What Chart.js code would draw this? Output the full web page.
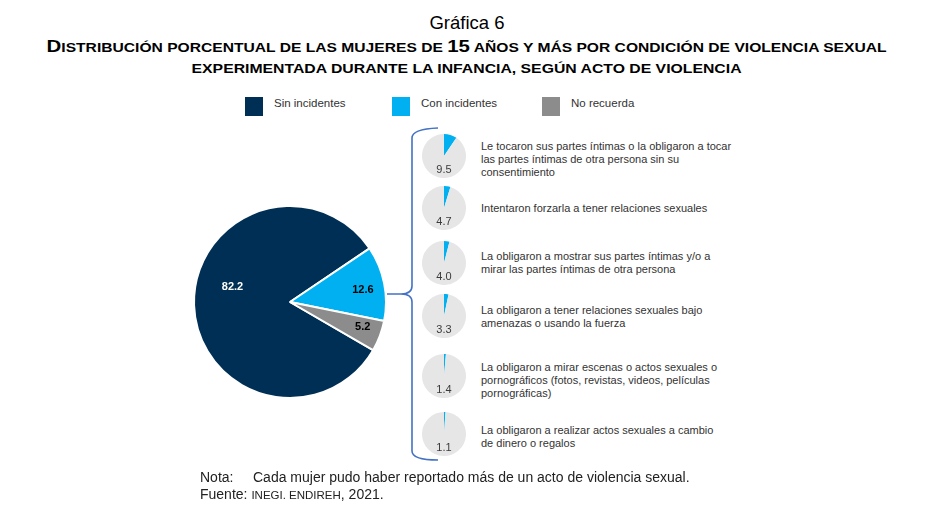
<!DOCTYPE html>
<html lang="es">
<head>
<meta charset="utf-8">
<title>Gráfica 6</title>
<script src="https://cdn.jsdelivr.net/npm/chart.js@4"></script>
<style>
    body {
        margin: 0;
        width: 934px;
        height: 515px;
        background: #ffffff;
        font-family: 'Liberation Sans', Arial, sans-serif;
        position: relative;
        overflow: hidden;
    }
    .abs { position: absolute; }
    #kicker {
        left: 0; width: 934px; top: 12px;
        text-align: center; font-size: 18.5px; color: #000;
    }
    .title {
        left: 0; width: 934px; text-align: center;
        font-weight: bold; font-size: 13px; color: #000; white-space: nowrap;
    }
    .title span.inner { display: inline-block; transform-origin: center; }
    .title .big { font-size: 17px; }
    #legend span.box { position: absolute; width: 18px; height: 19px; }
    #legend span.txt { position: absolute; font-size: 11.5px; color: #333; }
    .acto {
        left: 481px; width: 280px; height: 50px;
        display: flex; align-items: center;
        font-size: 11px; line-height: 13px; color: #333; white-space: pre-line;
    }
    .note { font-size: 14px; color: #222; white-space: nowrap; }
    .sc { font-size: 11.5px; }
</style>
</head>
<body>

<div id="kicker" class="abs">Gráfica 6</div>
<div class="abs title" style="top:37px"><span class="inner" data-w="840"><span class="big">D</span>ISTRIBUCIÓN PORCENTUAL DE LAS MUJERES DE <span class="big">15</span> AÑOS Y MÁS POR CONDICIÓN DE VIOLENCIA SEXUAL</span></div>
<div class="abs title" style="top:61px"><span class="inner" data-w="550">EXPERIMENTADA DURANTE LA INFANCIA, SEGÚN ACTO DE VIOLENCIA</span></div>

<div id="legend"></div>

<canvas id="mainPie" class="abs" style="left:180px;top:120px;width:280px;height:350px"></canvas>
<div id="smallPies"></div>

<div class="abs note" style="left:200px;top:469px">Nota:</div>
<div class="abs note" style="left:253px;top:469px">Cada mujer pudo haber reportado más de un acto de violencia sexual.</div>
<div class="abs note" style="left:200px;top:486px">Fuente: <span class="sc">INEGI. ENDIREH</span>, 2021.</div>

<script>
// Main pie data
const categorias = ['Sin incidentes', 'Con incidentes', 'No recuerda'];
const distribucion = [82.2, 12.6, 5.2];
const coloresCategorias = ['#002f56', '#00b0f0', '#8c8c8c'];

// Acts of violence (share of women, %), one entry per line of the label
const actos = [
    ['Le tocaron sus partes íntimas o la obligaron a tocar', 'las partes íntimas de otra persona sin su', 'consentimiento'],
    ['Intentaron forzarla a tener relaciones sexuales'],
    ['La obligaron a mostrar sus partes íntimas y/o a', 'mirar las partes íntimas de otra persona'],
    ['La obligaron a tener relaciones sexuales bajo', 'amenazas o usando la fuerza'],
    ['La obligaron a mirar escenas o actos sexuales o', 'pornográficos (fotos, revistas, videos, películas', 'pornográficas)'],
    ['La obligaron a realizar actos sexuales a cambio', 'de dinero o regalos']
];
const porcentajesActos = [9.5, 4.7, 4.0, 3.3, 1.4, 1.1];

// layout of the small pie column
const smallCenters = [156, 208, 263, 316, 376, 434];
const textCenters = [159, 208, 263, 317, 380, 437];
const smallX = 444;
const smallR = 22;

// stretch title lines to the width they have in the original
document.querySelectorAll('.title .inner').forEach(el => {
    const w = el.getBoundingClientRect().width;
    el.style.transform = 'scaleX(' + (parseFloat(el.dataset.w) / w) + ')';
});

// --- legend (HTML) ---
const legendEl = document.getElementById('legend');
const legendX = [245, 392, 542];
categorias.forEach((cat, i) => {
    const box = document.createElement('span');
    box.className = 'box';
    box.style.left = legendX[i] + 'px';
    box.style.top = '97px';
    box.style.background = coloresCategorias[i];
    legendEl.appendChild(box);

    const txt = document.createElement('span');
    txt.className = 'txt';
    txt.style.left = (legendX[i] + 29) + 'px';
    txt.style.top = '97px';
    txt.textContent = cat;
    legendEl.appendChild(txt);
});

// --- plugin: value labels on main pie ---
const mainLabels = {
    id: 'mainLabels',
    afterDatasetsDraw(chart, args, opts) {
        const ctx = chart.ctx;
        const meta = chart.getDatasetMeta(0);
        ctx.save();
        ctx.font = 'bold 11px "Liberation Sans", Arial, sans-serif';
        ctx.textAlign = 'center';
        ctx.textBaseline = 'middle';
        meta.data.forEach((arc, i) => {
            const p = arc.getProps(['x', 'y', 'startAngle', 'endAngle', 'outerRadius'], true);
            const mid = (p.startAngle + p.endAngle) / 2 + opts.angleShift[i] * Math.PI / 180;
            const r = p.outerRadius * opts.radius[i];
            ctx.fillStyle = opts.colors[i];
            ctx.fillText(chart.data.datasets[0].data[i].toFixed(1), p.x + r * Math.cos(mid), p.y + r * Math.sin(mid));
        });
        ctx.restore();
    }
};

// --- plugin: curly brace linking "Con incidentes" to the acts ---
const bracePlugin = {
    id: 'brace',
    afterDraw(chart) {
        const ctx = chart.ctx;
        const ox = 180, oy = 120; // canvas offset on the page
        const P = (x, y) => [x - ox, y - oy];
        ctx.save();
        ctx.strokeStyle = '#4472c4';
        ctx.lineWidth = 1.6;
        ctx.beginPath();
        ctx.moveTo(...P(438, 128));
        ctx.quadraticCurveTo(...P(412, 129), ...P(412, 138));
        ctx.lineTo(...P(412, 286));
        ctx.quadraticCurveTo(...P(412, 294), ...P(401, 294));
        ctx.lineTo(...P(387, 294));
        ctx.moveTo(...P(401, 294));
        ctx.quadraticCurveTo(...P(412, 294), ...P(412, 302));
        ctx.lineTo(...P(412, 451));
        ctx.quadraticCurveTo(...P(412, 460), ...P(438, 460));
        ctx.stroke();
        ctx.restore();
    }
};

new Chart(document.getElementById('mainPie'), {
    type: 'pie',
    data: {
        labels: categorias,
        datasets: [{
            data: distribucion,
            backgroundColor: coloresCategorias,
            borderColor: '#ffffff',
            borderWidth: 2
        }]
    },
    options: {
        responsive: false,
        animation: false,
        rotation: 120.1,
        layout: { padding: { left: 13, right: 73, top: 85, bottom: 71 } },
        plugins: {
            legend: { display: false },
            tooltip: { enabled: false },
            mainLabels: {
                radius: [0.62, 0.77, 0.8],
                angleShift: [17, 2, -2],
                colors: ['#ffffff', '#000000', '#000000']
            }
        }
    },
    plugins: [mainLabels, bracePlugin]
});

// --- plugin: value under the centre of each small pie ---
const smallLabel = {
    id: 'smallLabel',
    afterDatasetsDraw(chart) {
        const ctx = chart.ctx;
        const arc = chart.getDatasetMeta(0).data[0];
        ctx.save();
        ctx.font = '11px "Liberation Sans", Arial, sans-serif';
        ctx.fillStyle = '#3a3a3a';
        ctx.textAlign = 'center';
        ctx.textBaseline = 'middle';
        ctx.fillText(chart.data.datasets[0].data[0].toFixed(1), arc.x, arc.y + 14);
        ctx.restore();
    }
};

const smallWrap = document.getElementById('smallPies');
porcentajesActos.forEach((v, i) => {
    const cv = document.createElement('canvas');
    cv.className = 'abs';
    cv.style.left = (smallX - smallR) + 'px';
    cv.style.top = (smallCenters[i] - smallR) + 'px';
    cv.style.width = (smallR * 2) + 'px';
    cv.style.height = (smallR * 2) + 'px';
    smallWrap.appendChild(cv);

    new Chart(cv, {
        type: 'pie',
        data: {
            labels: ['Sí', 'No'],
            datasets: [{
                data: [v, 100 - v],
                backgroundColor: ['#00b0f0', '#e6e6e6'],
                borderWidth: 0
            }]
        },
        options: {
            responsive: false,
            animation: false,
            plugins: { legend: { display: false }, tooltip: { enabled: false } }
        },
        plugins: [smallLabel]
    });

    const txt = document.createElement('div');
    txt.className = 'abs acto';
    txt.style.top = (textCenters[i] - 25) + 'px';
    txt.textContent = actos[i].join('\n');
    document.body.appendChild(txt);
});
</script>
</body>
</html>
